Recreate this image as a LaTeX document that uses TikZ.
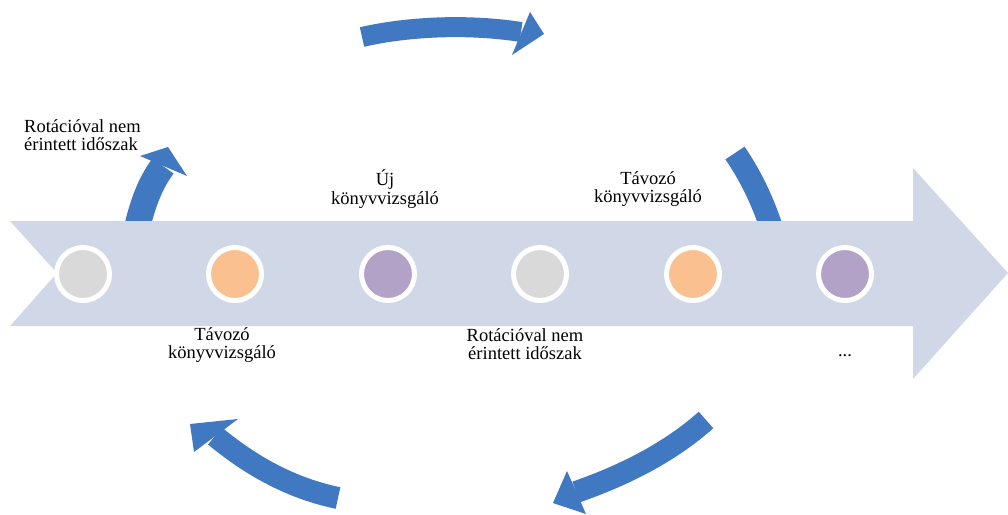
\documentclass[tikz,border=0pt]{standalone}
\usepackage{fontspec}
\setmainfont{Liberation Serif}
\definecolor{cyclearrow}{RGB}{64,121,194}
\definecolor{timeband}{RGB}{208,216,232}
\definecolor{stagegray}{RGB}{217,217,217}
\definecolor{stageorange}{RGB}{250,192,144}
\definecolor{stagepurple}{RGB}{179,162,199}
\begin{document}
\begin{tikzpicture}[x=1pt,y=-1pt,
  band/.style={draw=cyclearrow, line width=#1, line cap=butt},
  head/.style={fill=cyclearrow},
  dot/.style={circle, draw=white, line width=5pt, minimum size=53pt, inner sep=0pt, fill=#1},
  lbl/.style={font=\fontsize{18.5}{18.5}\selectfont, align=center, inner sep=0pt}]
\useasboundingbox (0,0) rectangle (1008,514);

% circular arrows around the timeline
\draw[band=20pt] (362,37) .. controls (410,26) and (470,24) .. (521,32);
\fill[head] (530,12) -- (544,34) -- (512,55) -- cycle;

\draw[band=23pt] (735,153) .. controls (752,178) and (765,205) .. (777,245);

\draw[band=22pt] (706,420) .. controls (670,452) and (625,475) .. (576,492);
\fill[head] (567,471) -- (553,503) -- (586,514) -- cycle;

\draw[band=22pt] (338,498) .. controls (290,488) and (250,465) .. (215,436);
\fill[head] (238,419) -- (190,424) -- (194,452) -- cycle;

\draw[band=26pt] (130,260) .. controls (138,220) and (145,190) .. (163,166);
\fill[head] (140,156) -- (168,147) -- (187,176) -- cycle;

% timeline arrow
\fill[timeband] (10,221) -- (913,221) -- (913,168) -- (1008,273) -- (913,379)
  -- (913,326) -- (10,326) -- (57,273) -- cycle;

% stages
\node[dot=stagegray]   (s1) at (83,274)  {};
\node[dot=stageorange] (s2) at (235,274) {};
\node[dot=stagepurple] (s3) at (388,274) {};
\node[dot=stagegray]   (s4) at (540,274) {};
\node[dot=stageorange] (s5) at (693,274) {};
\node[dot=stagepurple] (s6) at (845,274) {};

% labels
\node[lbl, align=left, anchor=west] (t1) at (24,135) {Rotációval nem\\érintett időszak};
\node[lbl] (t2) at (385,189) {Új\\könyvvizsgáló};
\node[lbl] (t3) at (648,189) {Távozó\\könyvvizsgáló};
\node[lbl] (t4) at (222,345) {Távozó\\könyvvizsgáló};
\node[lbl] (t5) at (525,344) {Rotációval nem\\érintett időszak};
\node[lbl, anchor=base] (t6) at (845,356) {...};
\end{tikzpicture}
\end{document}
